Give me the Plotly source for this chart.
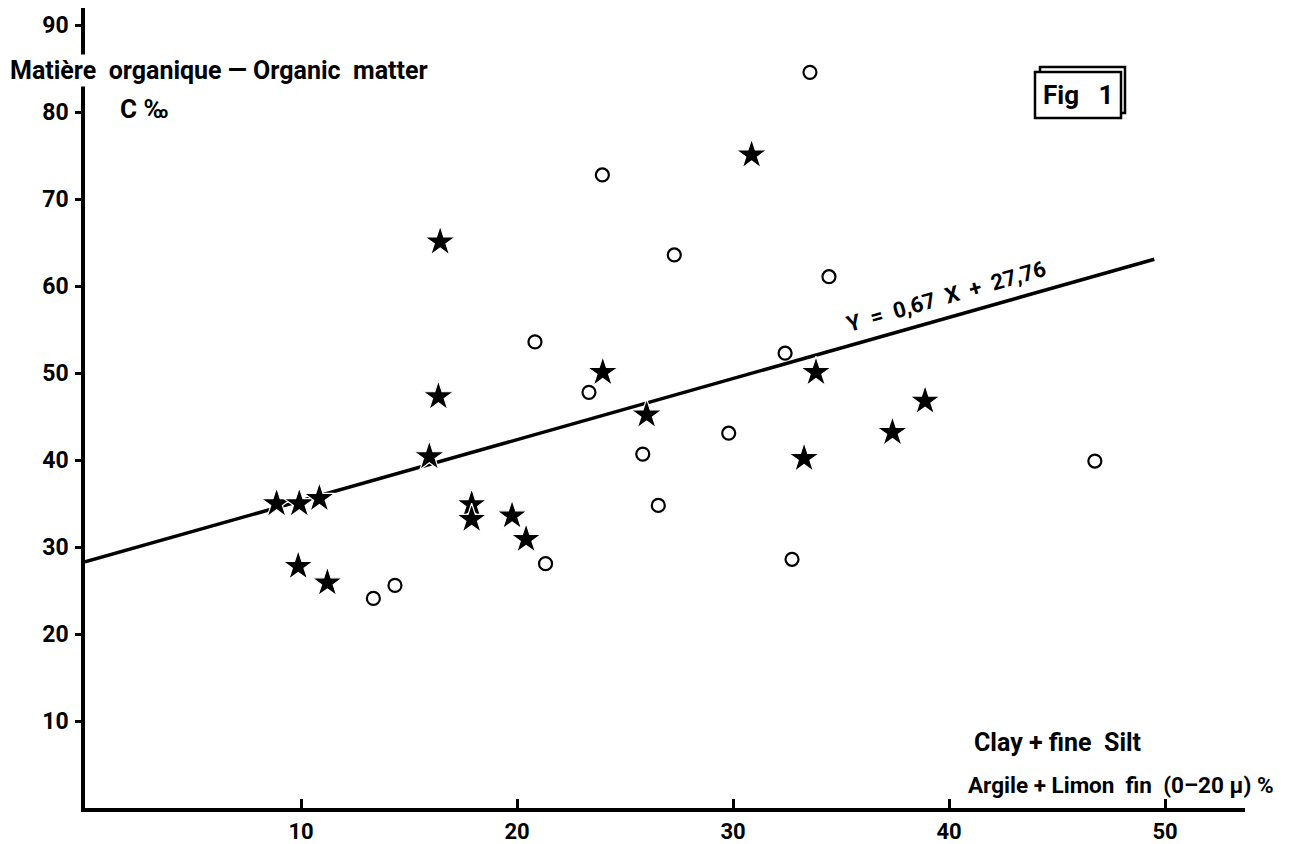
import plotly.graph_objects as go

# Data
star_x = [8.87, 9.92, 10.85, 9.87, 11.22, 16.44, 16.36, 15.94, 17.90, 17.90,
          19.77, 20.42, 23.97, 26.00, 30.86, 33.29, 33.84, 37.38, 38.89]
star_y = [35.0, 35.0, 35.6, 27.8, 25.9, 65.1, 47.3, 40.4, 34.9, 33.2,
          33.6, 30.9, 50.1, 45.2, 75.1, 40.2, 50.1, 43.2, 46.8]

circle_x = [13.35, 14.35, 21.32, 20.83, 23.33, 23.95, 25.82, 26.54, 27.28,
            29.80, 32.41, 32.73, 33.56, 34.44, 46.75]
circle_y = [24.1, 25.6, 28.1, 53.6, 47.8, 72.8, 40.7, 34.8, 63.6,
            43.1, 52.3, 28.6, 84.6, 61.1, 39.9]

line_x = [0.0, 49.5]
line_y = [28.3, 63.1]

x_ticks = [10, 20, 30, 40, 50]
y_ticks = [10, 20, 30, 40, 50, 60, 70, 80, 90]

FONT = "Roboto, Liberation Sans, sans-serif"

fig = go.Figure()

fig.add_trace(go.Scatter(x=line_x, y=line_y, mode="lines",
                         line=dict(color="black", width=3.5),
                         hoverinfo="skip"))
fig.add_trace(go.Scatter(x=circle_x, y=circle_y, mode="markers",
                         marker=dict(symbol="circle-open", size=13,
                                     color="black", line=dict(width=2.2, color="black"))))
fig.add_trace(go.Scatter(x=star_x, y=star_y, mode="markers",
                         marker=dict(symbol="star", size=23, color="black",
                                     line=dict(width=1.2, color="white"))))

# plot-area geometry helpers (pixels -> paper)
L, T, W, H = 85, 8, 1160, 800
def px(xp):
    return (xp - L) / W
def py(yp):
    return (T + H - yp) / H

fig.update_layout(
    width=1289, height=844,
    margin=dict(l=L, r=1289 - L - W, t=T, b=844 - T - H, autoexpand=False),
    paper_bgcolor="white", plot_bgcolor="white",
    showlegend=False,
    font=dict(family=FONT, color="black", size=24, weight="bold"),
    xaxis=dict(range=[0, 53.7], showgrid=False, zeroline=False, automargin=False,
               showline=True, linecolor="black", linewidth=3.5,
               ticks="inside", ticklen=9, tickwidth=3, tickcolor="black",
               tickvals=x_ticks, ticktext=[str(v) for v in x_ticks],
               tickfont=dict(family=FONT, size=22, weight="bold"),
               ticklabelstandoff=1),
    yaxis=dict(range=[0, 92], showgrid=False, zeroline=False, automargin=False,
               showline=True, linecolor="black", linewidth=3.5,
               ticks="outside", ticklen=6, tickwidth=3, tickcolor="black",
               tickvals=y_ticks, ticktext=[str(v) for v in y_ticks],
               tickfont=dict(family=FONT, size=23, weight="bold"),
               ticklabelstandoff=2),
)

# Fig 1 box (shadow + front rectangle)
fig.add_shape(type="rect", xref="paper", yref="paper",
              x0=px(1040), x1=px(1125), y0=py(113), y1=py(67),
              line=dict(color="black", width=2.5), fillcolor="white", layer="above")
fig.add_shape(type="rect", xref="paper", yref="paper",
              x0=px(1035), x1=px(1121), y0=py(118), y1=py(72),
              line=dict(color="black", width=2.5), fillcolor="white", layer="above")

ann = [
    dict(text="Matière  organique — Organic  matter", x=px(8), y=py(70),
         xanchor="left", yanchor="middle", font=dict(size=25), bgcolor="white"),
    dict(text="C ‰", x=px(118), y=py(109), xanchor="left", yanchor="middle",
         font=dict(size=26)),
    dict(text="Fig   1", x=px(1078), y=py(95), xanchor="center", yanchor="middle",
         font=dict(size=26)),
    dict(text="Y  =  0,67  X  +  27,76", x=px(946), y=py(296), xanchor="center",
         yanchor="middle", textangle=-16, font=dict(size=22)),
    dict(text="Clay + fine  Silt", x=px(972), y=py(742), xanchor="left",
         yanchor="middle", font=dict(size=25)),
    dict(text="Argile + Limon  fin  (0–20 µ) %", x=px(966), y=py(785), xanchor="left",
         yanchor="middle", font=dict(size=22.5)),
]
for a in ann:
    fig.add_annotation(xref="paper", yref="paper", showarrow=False, **a)

fig.write_html("out.html", config={"displayModeBar": False},
               post_script="document.body.style.margin='0px';")
